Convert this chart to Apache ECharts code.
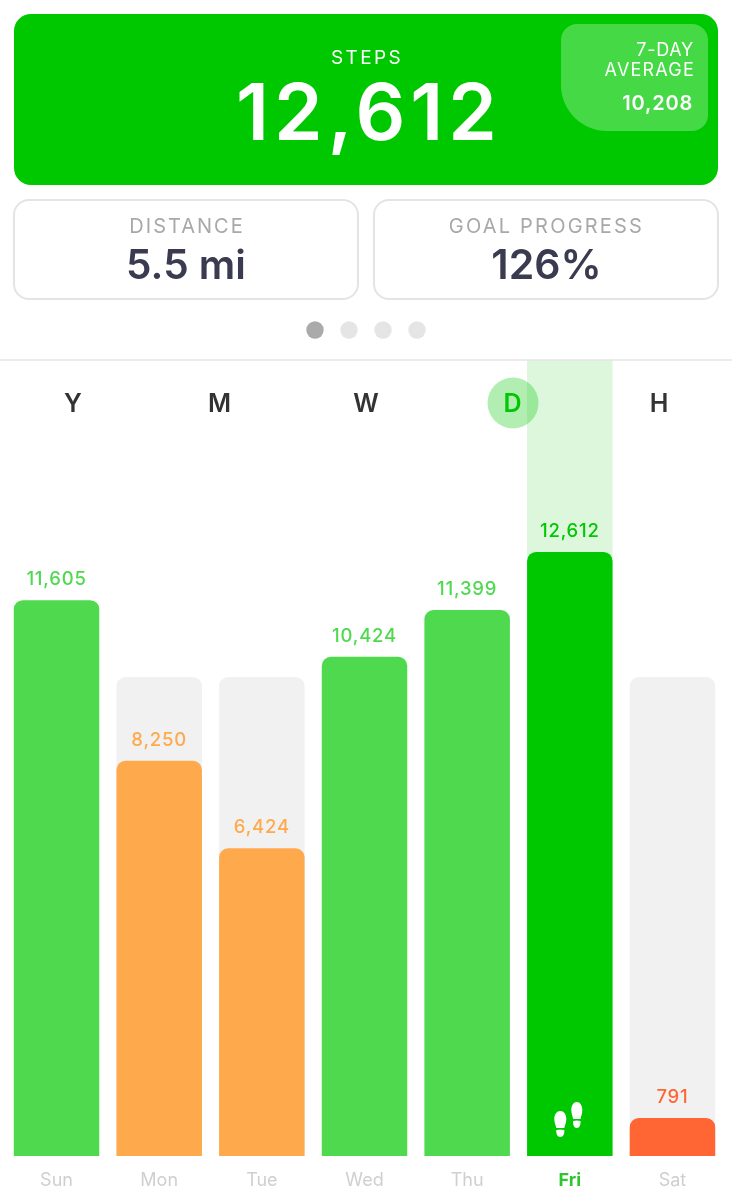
<!DOCTYPE html>
<html>
<head>
<meta charset="utf-8">
<style>html,body{margin:0;padding:0;background:#fff}#chart{width:732px;height:1200px}</style>
<script src="https://cdn.jsdelivr.net/npm/echarts@6/dist/echarts.min.js"></script>
</head>
<body>
<div id="chart"></div>
<script>
// Step counts for the selected week
const days = ['Sun', 'Mon', 'Tue', 'Wed', 'Thu', 'Fri', 'Sat'];
const steps = [11605, 8250, 6424, 10424, 11399, 12612, 791];
const dailyGoal = 10000;
const today = 'Fri';
const axisTop = 16620;
const footprintLevel = 762;

// Summary figures
const totalSteps = '12,612';
const weekAverage = '10,208';
const distance = '5.5 mi';
const goalProgress = '126%';
const ranges = ['Y', 'M', 'W', 'D', 'H'];
const activeRange = 'D';
const pageCount = 4;

const font = 'Inter, "Noto Sans", sans-serif';
const DARK_GREEN = '#00c800', GREEN = '#4fd94f', ORANGE = '#ffa94d', RED = '#ff6633';
const fmt = v => v.toLocaleString('en-US');

// Letter spacing for the tracked captions; the library has no option for it
const tracking = {
  'STEPS': '2.4px', 'DISTANCE': '2px', 'GOAL PROGRESS': '2.2px',
  '7-DAY': '0.7px', 'AVERAGE': '1.2px', [weekAverage]: '0.8px'
};
steps.forEach(v => { tracking[fmt(v)] = '0.8px'; });
const drawText = CanvasRenderingContext2D.prototype.fillText;
CanvasRenderingContext2D.prototype.fillText = function (t, x, y, w) {
  // the headline figure and its bar label share a string, so tell them apart by size
  const size = parseFloat((this.font.match(/([\d.]+)px/) || [])[1]);
  this.letterSpacing = (t === totalSteps && size > 40) ? '5px' : (tracking[t] || '0px');
  return w === undefined ? drawText.call(this, t, x, y) : drawText.call(this, t, x, y, w);
};

function barColor(v, day) {
  if (day === today) return DARK_GREEN;
  if (v >= dailyGoal) return GREEN;
  return v >= dailyGoal * 0.2 ? ORANGE : RED;
}

const text = (x, y, t, size, fill, weight, align) => ({
  type: 'text', z: 20, x, y,
  style: { text: t, fontFamily: font, fontSize: size, fill, fontWeight: weight || 400,
           align: align || 'center', verticalAlign: 'middle' }
});
const card = x => ({
  type: 'rect', z: 5,
  shape: { x, y: 200, width: 344, height: 99, r: 15 },
  style: { fill: '#fff', stroke: '#e4e4e4', lineWidth: 2 }
});

const graphics = [
  { type: 'rect', z: 5, shape: { x: 14, y: 14, width: 704, height: 171, r: 17 }, style: { fill: DARK_GREEN } },
  { type: 'rect', z: 6, shape: { x: 561, y: 24, width: 147, height: 107, r: [16, 16, 16, 46] }, style: { fill: '#45d945' } },
  text(367, 58, 'STEPS', 19, '#fff'),
  text(369, 117, totalSteps, 78, '#fff', 600),
  text(694, 51, '7-DAY', 18, '#fff', 400, 'right'),
  text(695, 71, 'AVERAGE', 18, '#fff', 400, 'right'),
  text(693, 104, weekAverage, 20, '#fff', 600, 'right'),
  card(14), card(374),
  text(187, 227, 'DISTANCE', 20, '#a8a8a8'),
  text(186, 267, distance, 40.5, '#3a3b50', 600),
  text(546.5, 227, 'GOAL PROGRESS', 20, '#a8a8a8'),
  text(546.5, 267, goalProgress, 41, '#3a3b50', 600),
  { type: 'line', z: 5, shape: { x1: 0, y1: 360, x2: 732, y2: 360 }, style: { stroke: '#e4e4e4', lineWidth: 1.5 } },
  { type: 'circle', z: 10, shape: { cx: 513, cy: 403, r: 25.5 }, style: { fill: 'rgba(0,200,0,0.3)' } }
];
for (let i = 0; i < pageCount; i++) {
  graphics.push({ type: 'circle', z: 5, shape: { cx: 315 + 34 * i, cy: 330, r: 8.7 },
                  style: { fill: i === 0 ? '#aaaaaa' : '#e5e5e5' } });
}
ranges.forEach((r, i) => {
  graphics.push(text(73 + 146.5 * i, 404, r, 25, r === activeRange ? DARK_GREEN : '#333333', 600));
});

// Pair of shoe prints shown on the current day's bar
const footprints = 'path://M6 0C9.5 0 12 3.5 12 8C12 12 10.5 14.5 10 17L2 17C1.5 14.5 0 12 0 8C0 3.5 2.5 0 6 0Z' +
  'M2 19C5 18.2 7 18.2 10 19C10.3 23 9 26 6 26C3 26 1.7 23 2 19Z' +
  'M22.5 -9C25.7 -9 28 -5.5 28 -1C28 3 26.6 5.5 26.2 8L18.8 8C18.4 5.5 17 3 17 -1C17 -5.5 19.3 -9 22.5 -9Z' +
  'M18.8 10C21 9.2 24 9.2 26.2 10C26.5 13.5 25.4 17 22.5 17C19.6 17 18.5 13.5 18.8 10Z';

const chart = echarts.init(document.getElementById('chart'), null, { renderer: 'canvas' });
chart.setOption({
  animation: false,
  backgroundColor: '#fff',
  graphic: graphics,
  grid: { left: 5.2, width: 718.6, top: 360, height: 796 },
  xAxis: {
    type: 'category',
    data: days.map(d => d === today
      ? { value: d, textStyle: { color: '#2ec52e', fontWeight: 700 } }
      : d),
    axisLine: { show: false },
    axisTick: { show: false },
    axisLabel: { color: '#cfcfcf', fontSize: 18, fontFamily: font, margin: 16 }
  },
  yAxis: { type: 'value', min: 0, max: axisTop, show: false, splitLine: { show: false } },
  series: [
    {
      // Column highlighting the current day
      type: 'bar', barWidth: 85.5, barGap: '-100%', silent: true,
      itemStyle: { color: '#ddf7dc' },
      data: days.map(d => d === today ? axisTop : null)
    },
    {
      // Goal backdrop for the days that fell short
      type: 'bar', barWidth: 85.5, barGap: '-100%', silent: true,
      itemStyle: { color: '#f1f1f1', borderRadius: [9, 9, 0, 0] },
      data: steps.map(v => v < dailyGoal ? dailyGoal : null)
    },
    {
      type: 'bar', barWidth: 85.5, barGap: '-100%',
      data: steps.map((v, i) => ({
        value: v,
        itemStyle: { color: barColor(v, days[i]), borderRadius: [9, 9, 0, 0] },
        label: { color: barColor(v, days[i]) }
      })),
      label: {
        show: true, position: 'top', distance: 11, fontSize: 18.5, fontWeight: 500, fontFamily: font,
        formatter: p => fmt(p.value)
      },
      markPoint: {
        silent: true,
        symbol: footprints,
        symbolSize: [28, 35],
        symbolOffset: [-1.5, 0],
        itemStyle: { color: '#fff' },
        label: { show: false },
        data: [{ coord: [today, footprintLevel] }]
      }
    }
  ]
});
</script>
</body>
</html>
